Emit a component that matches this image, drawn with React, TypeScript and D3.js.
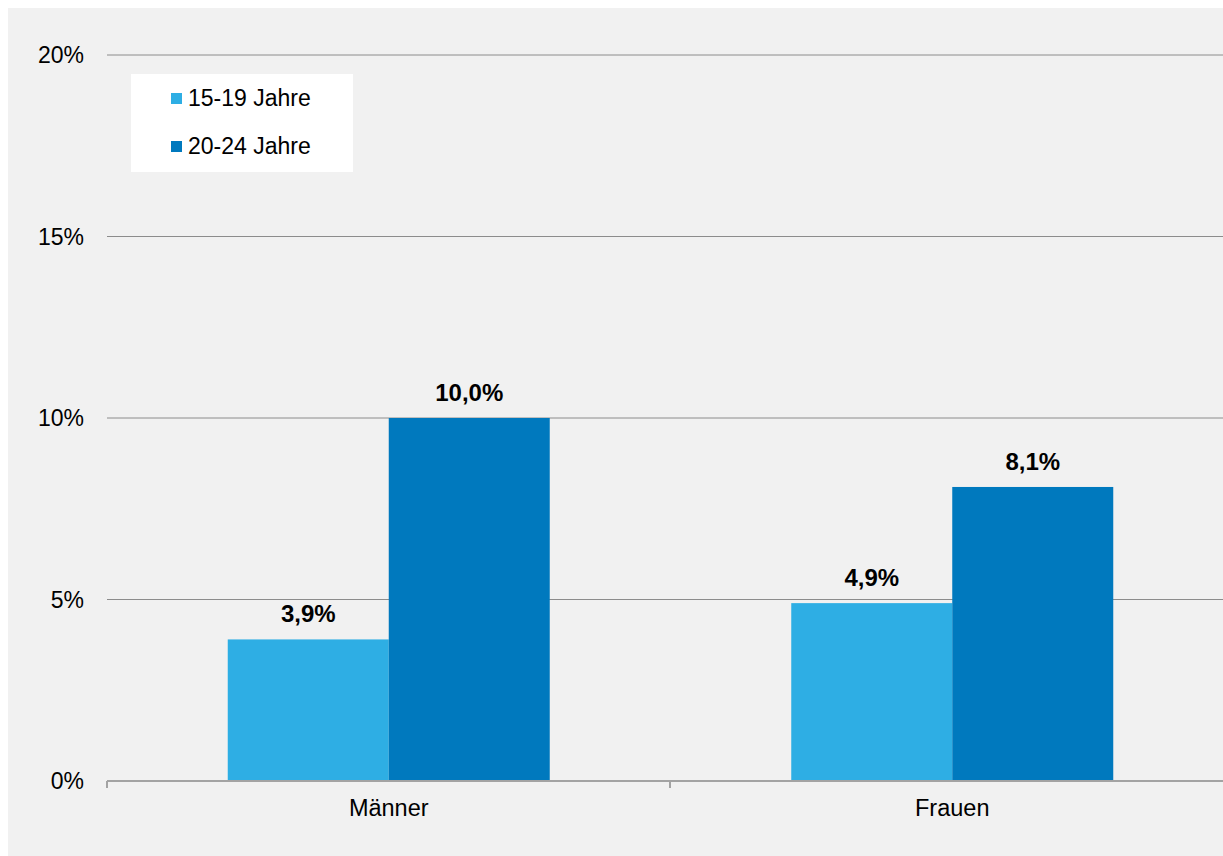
import React, { useEffect } from "react";
import * as d3 from "d3";

const categories = ["Männer", "Frauen"];
const seriesNames = ["15-19 Jahre", "20-24 Jahre"];
const values15_19 = [3.9, 4.9];
const values20_24 = [10.0, 8.1];
const yTicks = [0, 5, 10, 15, 20];
const colors = ["#2eaee4", "#0079be"];

export default function App() {
  useEffect(() => {
    document.documentElement.style.overflow = "hidden";
    document.body.style.overflow = "hidden";
  }, []);
  const W = 1215;
  const H = 848;
  const x0 = d3.scaleBand<string>().domain(categories).range([99, 1226]).padding(0);
  const x1 = d3.scaleBand<string>().domain(seriesNames).range([0, x0.bandwidth()]).paddingInner(0).paddingOuter(0.75);
  const y = d3.scaleLinear().domain([0, 20]).range([773, 47]);
  const series = [values15_19, values20_24];
  const fmt = (v: number) => v.toFixed(1).replace(".", ",") + "%";
  const font = "'Liberation Sans', Arial, sans-serif";
  return (
    <svg width={W} height={H} style={{ display: "block", fontFamily: font, position: "fixed", left: 8, top: 8 }}>
      <rect x={0} y={0} width={W} height={H} fill="#f1f1f1" />
      {yTicks.map((t) => (
        <g key={t}>
          {t > 0 && <line x1={99} x2={1226} y1={y(t)} y2={y(t)} stroke="#8c8c8c" strokeWidth={1} />}
          <text x={76} y={y(t)} dy="0.35em" textAnchor="end" fontSize={23} fill="#000">{t}%</text>
        </g>
      ))}
      {categories.map((c, ci) => (
        <g key={c}>
          {seriesNames.map((s, si) => {
            const v = series[si][ci];
            const bx = (x0(c) as number) + (x1(s) as number);
            return (
              <g key={s}>
                <rect x={bx} y={y(v)} width={x1.bandwidth()} height={y(0) - y(v)} fill={colors[si]} />
                <text x={bx + x1.bandwidth() / 2} y={y(v) - 17} textAnchor="middle" fontSize={24} fontWeight="bold" fill="#000">{fmt(v)}</text>
              </g>
            );
          })}
          <text x={(x0(c) as number) + x0.bandwidth() / 2} y={800} dy="0.35em" textAnchor="middle" fontSize={23.5} fill="#000">{c}</text>
        </g>
      ))}
      <line x1={99} x2={1226} y1={y(0)} y2={y(0)} stroke="#a3a3a3" strokeWidth={2} />
      {[99, 662, 1225].map((tx) => (
        <line key={tx} x1={tx} x2={tx} y1={y(0)} y2={y(0) + 7} stroke="#a3a3a3" strokeWidth={2} />
      ))}
      <rect x={123} y={66} width={222} height={98} fill="#ffffff" />
      {seriesNames.map((s, i) => (
        <g key={s}>
          <rect x={163} y={85 + i * 48} width={11} height={11} fill={colors[i]} />
          <text x={180} y={90 + i * 48} dy="0.35em" fontSize={23} fill="#000">{s}</text>
        </g>
      ))}
    </svg>
  );
}
